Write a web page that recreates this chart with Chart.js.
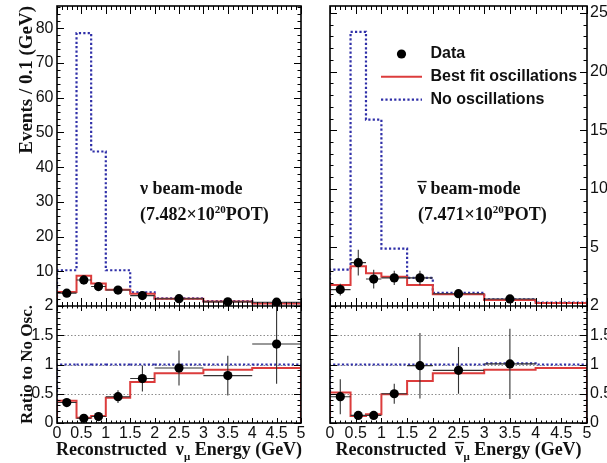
<!DOCTYPE html>
<html><head><meta charset="utf-8">
<script src="https://cdn.jsdelivr.net/npm/chart.js@4.4.1/dist/chart.umd.min.js"></script>
<style>
html,body{margin:0;padding:0;background:#fff;}
#wrap{position:relative;width:607px;height:463px;overflow:hidden;background:#fff;}
#cL{position:absolute;left:0;top:0;}
#cR{position:absolute;left:315px;top:0;}
</style></head><body>
<div id="wrap"><canvas id="cL" width="315" height="463"></canvas><canvas id="cR" width="292" height="463"></canvas></div>
<script>
// ---------- data ----------
const binEdges = [0, 0.4, 0.7, 1.0, 1.5, 2.0, 3.0, 4.0, 5.0];
const energyTicks = [0, 0.5, 1, 1.5, 2, 2.5, 3, 3.5, 4, 4.5, 5];
const ratioTicks = [0, 0.5, 1, 1.5, 2];
const ratioGrid = [0.5, 1, 1.5];
const nuTopTicks = [10, 20, 30, 40, 50, 60, 70, 80];
const anuTopTicks = [5, 10, 15, 20, 25];

// neutrino beam mode (events / 0.1 GeV)
const nuNoOsc   = [10.3, 78.6, 44.5, 10.3, 3.9, 2.2, 1.4, 0.8];
const nuBestFit = [4.0, 8.7, 6.5, 4.7, 3.5, 2.1, 1.3, 0.7];
const nuData    = [3.7, 7.5, 5.6, 4.6, 3.0, 2.1, 1.2, 1.1];
const nuDataErr = [0.9, 1.3, 1.1, 0.7, 0.6, 0.35, 0.3, 0.3];
const nuRatioNoOsc   = [1, 1, 1, 1, 1, 1, 1, 1];
const nuRatioBestFit = [0.38, 0.09, 0.12, 0.43, 0.70, 0.85, 0.91, 0.94];
const nuRatioData    = [0.35, 0.08, 0.11, 0.45, 0.76, 0.94, 0.81, 1.35];
const nuRatioErr     = [0.07, 0.03, 0.04, 0.11, 0.22, 0.30, 0.34, 0.68];

// antineutrino beam mode
const anuNoOsc   = [3.1, 23.4, 15.9, 4.9, 2.4, 1.13, 0.57, 0.28];
const anuBestFit = [1.8, 3.4, 2.8, 2.5, 1.8, 1.0, 0.52, 0.25];
const anuData    = [1.4, 3.7, 2.3, 2.4, 2.4, 1.05, 0.6];
const anuDataErr = [0.5, 1.1, 0.8, 0.6, 0.6, 0.3, 0.25];
const anuRatioNoOsc   = [1, 1, 1, 1, 1, 1, 1.02, 1];
const anuRatioBestFit = [0.52, 0.12, 0.15, 0.49, 0.72, 0.85, 0.91, 0.94];
const anuRatioData    = [0.45, 0.13, 0.13, 0.50, 0.98, 0.90, 1.01];
const anuRatioErr     = [0.30, 0.05, 0.05, 0.17, 0.56, 0.40, 0.60];

// ---------- styling ----------
const SANS = '"Liberation Sans", Arial, Helvetica, sans-serif';
const SERIF = '"Liberation Serif", "Times New Roman", serif';
const BLUE = '#2f2fa8';
const RED = '#dc3c3c';

function histPts(vals) {
  const last = binEdges.length - 1;
  const p = [{x: binEdges[0], y: 0}];
  vals.forEach((v, i) => p.push({x: binEdges[i], y: v}));
  p.push({x: binEdges[last], y: vals[vals.length - 1]});
  p.push({x: binEdges[last], y: 0});
  return p;
}
function dataPts(vals) {
  return vals.map((v, i) => ({x: (binEdges[i] + binEdges[i + 1]) / 2, y: v}));
}
function tickList(min, max, step, every) {
  const n = Math.floor((max - min) / step + 1e-6), out = [];
  for (let k = 0; k <= n; k++) out.push({v: min + k * step, major: k % every === 0});
  return out;
}

function drawFrame(chart, opts) {
  const ctx = chart.ctx, xs = chart.scales.x, ys = chart.scales.yTop, yr = chart.scales.yRatio;
  const L = xs.left, R = xs.right;
  ctx.save();
  ctx.setLineDash([]);
  ctx.strokeStyle = '#000'; ctx.lineWidth = 1;
  const panels = [
    {sc: ys, T: ys.top, B: ys.bottom, list: tickList(0, opts.topMax, opts.topMinor, 5), xMaj: 8, xMin: 4},
    {sc: yr, T: yr.top, B: yr.bottom, list: tickList(0, 2, 0.1, 5), xMaj: 5, xMin: 2.5}
  ];
  const xt = tickList(0, 5, 0.1, 5);
  panels.forEach(p => {
    ctx.beginPath();
    p.list.forEach(t => {
      const py = Math.round(p.sc.getPixelForValue(t.v)) + 0.5;
      const len = t.major ? 7 : 3.5;
      ctx.moveTo(L, py); ctx.lineTo(L + len, py);
      ctx.moveTo(R, py); ctx.lineTo(R - len, py);
    });
    xt.forEach(t => {
      const px = Math.round(xs.getPixelForValue(t.v)) + 0.5;
      const len = t.major ? p.xMaj : p.xMin;
      ctx.moveTo(px, p.B); ctx.lineTo(px, p.B - len);
      ctx.moveTo(px, p.T); ctx.lineTo(px, p.T + len);
    });
    ctx.stroke();
  });
  ctx.lineWidth = 1.6;
  ctx.strokeRect(L, ys.top, R - L, yr.bottom - ys.top);
  ctx.beginPath(); ctx.moveTo(L, ys.bottom); ctx.lineTo(R, ys.bottom); ctx.stroke();
  ctx.restore();
}

function drawTexts(chart, opts) {
  const ctx = chart.ctx, ca = chart.chartArea;
  ctx.save();
  ctx.setLineDash([]);
  ctx.fillStyle = '#111';
  ctx.textBaseline = 'alphabetic'; ctx.textAlign = 'left';
  const big = 'bold 18px ' + SERIF, sup = 'bold 11px ' + SERIF;
  // beam-mode annotation
  const ax = ca.left + opts.annX, ay = ca.top + 188;
  ctx.font = big;
  ctx.fillText(opts.nu, ax, ay);
  const nuW = ctx.measureText(opts.nu).width;
  if (opts.bar) ctx.fillText('\u00AF', ax + nuW / 2 - ctx.measureText('\u00AF').width / 2, ay + 1);
  ctx.fillText(' beam-mode', ax + nuW, ay);
  let cx = ax;
  const by = ca.top + 214;
  const seg = [['(' + opts.pot + '\u00D710', big, 0], ['20', sup, -7], ['POT)', big, 0]];
  seg.forEach(s => { ctx.font = s[1]; ctx.fillText(s[0], cx, by + s[2]); cx += ctx.measureText(s[0]).width; });

  // x-axis title with subscript
  const tf = 'bold 18px ' + SERIF, sf = 'bold 11px ' + SERIF;
  const parts = [['Reconstructed  ', tf, 0], [opts.nu, tf, 0], ['\u03BC', sf, 5], [' Energy (GeV)', tf, 0]];
  let tw = 0;
  parts.forEach(p => { ctx.font = p[1]; tw += ctx.measureText(p[0]).width; });
  let tx = (ca.left + ca.right) / 2 - tw / 2;
  const tyb = ca.bottom + 32;
  parts.forEach((p, i) => {
    ctx.font = p[1];
    ctx.fillText(p[0], tx, tyb + p[2]);
    const w = ctx.measureText(p[0]).width;
    if (i === 1 && opts.bar) ctx.fillText('\u00AF', tx + w / 2 - ctx.measureText('\u00AF').width / 2, tyb + 1);
    tx += w;
  });

  // legend
  if (opts.legend) {
    const lx = ca.left, ly = ca.top;
    ctx.font = 'bold 16px ' + SANS; ctx.textBaseline = 'middle';
    opts.legend.forEach((r, i) => {
      const yy = ly + 48 + i * 22.8;
      if (r.kind === 'dot') {
        ctx.beginPath(); ctx.arc(lx + 71.5, yy, 4.6, 0, Math.PI * 2); ctx.fillStyle = '#000'; ctx.fill();
      } else {
        ctx.beginPath(); ctx.strokeStyle = r.color; ctx.lineWidth = r.kind === 'dash' ? 2.2 : 2;
        ctx.setLineDash(r.kind === 'dash' ? [2.2, 2.2] : []);
        ctx.moveTo(lx + 51, yy); ctx.lineTo(lx + 92, yy); ctx.stroke(); ctx.setLineDash([]);
      }
      ctx.fillStyle = '#111';
      ctx.fillText(r.text, lx + 100.5, yy);
    });
  }
  ctx.restore();
}

const decor = {
  id: 'decor',
  beforeDatasetsDraw(chart) {
    const ctx = chart.ctx, xs = chart.scales.x, yr = chart.scales.yRatio;
    ctx.save();
    ctx.strokeStyle = '#8c8c8c'; ctx.lineWidth = 1; ctx.setLineDash([1.5, 2]);
    ratioGrid.forEach(v => {
      const py = Math.round(yr.getPixelForValue(v)) + 0.5;
      ctx.beginPath(); ctx.moveTo(xs.left, py); ctx.lineTo(xs.right, py); ctx.stroke();
    });
    ctx.restore();
  },
  beforeDatasetDraw(chart, args) {
    const ds = chart.data.datasets[args.index];
    if (!ds.errY) return;
    const ctx = chart.ctx, xs = chart.scales.x, y = chart.scales[ds.yAxisID];
    ctx.save();
    ctx.setLineDash([]);
    ctx.strokeStyle = '#333'; ctx.lineWidth = 1.1;
    ds.data.forEach((pt, i) => {
      const px = xs.getPixelForValue(pt.x);
      const py = y.getPixelForValue(pt.y);
      ctx.beginPath();
      ctx.moveTo(px, y.getPixelForValue(Math.max(y.min, pt.y - ds.errY[i])));
      ctx.lineTo(px, y.getPixelForValue(Math.min(y.max, pt.y + ds.errY[i])));
      ctx.moveTo(xs.getPixelForValue(binEdges[i]), py);
      ctx.lineTo(xs.getPixelForValue(binEdges[i + 1]), py);
      ctx.stroke();
    });
    ctx.restore();
  },
  afterDraw(chart, args, opts) {
    drawFrame(chart, opts);
    drawTexts(chart, opts);
  }
};

function yAxis(pos, ticksArr, min, max, weight, stackWeight, width, title) {
  const o = {
    type: 'linear', position: pos, stack: 'col', stackWeight: stackWeight, weight: weight,
    min: min, max: max,
    grid: {display: false, drawTicks: false}, border: {display: false},
    afterBuildTicks: s => { s.ticks = ticksArr.map(v => ({value: v})); },
    afterFit: s => { s.width = width; s.paddingTop = 0; s.paddingBottom = 0; },
    ticks: {font: {family: SANS, size: 16}, color: '#111', padding: pos === 'left' ? 3.5 : 3,
            autoSkip: false, callback: v => String(v)}
  };
  if (title) o.title = title;
  return o;
}

function buildChart(canvas, cfg) {
  const pt = {pointRadius: 4.6, pointBackgroundColor: '#000', pointBorderColor: '#000', pointBorderWidth: 0, showLine: false};
  return new Chart(canvas, {
    type: 'line',
    data: {datasets: [
      Object.assign({type: 'scatter', label: 'Data', data: dataPts(cfg.data), yAxisID: 'yTop', errY: cfg.dataErr, order: 0}, pt),
      Object.assign({type: 'scatter', label: 'Data ratio', data: dataPts(cfg.ratioData), yAxisID: 'yRatio', errY: cfg.ratioErr, order: 0}, pt),
      {label: 'Best fit oscillations', data: histPts(cfg.bestFit), yAxisID: 'yTop', stepped: 'before',
       borderColor: RED, borderWidth: 2, pointRadius: 0, fill: false, order: 1},
      {label: 'Best fit ratio', data: histPts(cfg.ratioBestFit), yAxisID: 'yRatio', stepped: 'before',
       borderColor: RED, borderWidth: 2, pointRadius: 0, fill: false, order: 1},
      {label: 'No oscillations', data: histPts(cfg.noOsc), yAxisID: 'yTop', stepped: 'before',
       borderColor: BLUE, borderWidth: 2.2, borderDash: [2.2, 2.2], pointRadius: 0, fill: false, order: 2},
      {label: 'No oscillations ratio', data: histPts(cfg.ratioNoOsc), yAxisID: 'yRatio', stepped: 'before',
       borderColor: BLUE, borderWidth: 2.2, borderDash: [2.2, 2.2], pointRadius: 0, fill: false, order: 2}
    ]},
    options: {
      responsive: false, animation: false, devicePixelRatio: 1,
      layout: {padding: cfg.padding},
      plugins: {legend: {display: false}, tooltip: {enabled: false}, decor: cfg.decor},
      scales: {
        x: {type: 'linear', position: 'bottom', min: 0, max: 5,
            grid: {display: false, drawTicks: false}, border: {display: false},
            afterBuildTicks: s => { s.ticks = energyTicks.map(v => ({value: v})); },
            afterFit: s => { s.height = 40; s.paddingLeft = 0; s.paddingRight = 0; },
            ticks: {font: {family: SANS, size: 16}, color: '#111', padding: 1, autoSkip: false,
                    minRotation: 0, maxRotation: 0, callback: v => String(v)}},
        yTop: cfg.yTop,
        yRatio: cfg.yRatio
      }
    },
    plugins: [decor]
  });
}

buildChart(document.getElementById('cL'), {
  data: nuData, dataErr: nuDataErr, ratioData: nuRatioData, ratioErr: nuRatioErr,
  bestFit: nuBestFit, ratioBestFit: nuRatioBestFit, noOsc: nuNoOsc, ratioNoOsc: nuRatioNoOsc,
  padding: {left: 0, top: 6, right: 14, bottom: 0},
  yTop: yAxis('left', nuTopTicks, 0, 86.4, 2, 300, 57,
    {display: true, text: 'Events / 0.1 (GeV)', align: 'end', color: '#111',
     font: {family: SERIF, size: 19, weight: 'bold'}, padding: {top: 15.5, bottom: 0}}),
  yRatio: yAxis('left', ratioTicks, 0, 2, 1, 117, 57,
    {display: true, text: 'Ratio to No Osc.', align: 'center', color: '#111',
     font: {family: SERIF, size: 17, weight: 'bold'}, padding: {top: 17, bottom: 0}}),
  decor: {topMax: 86.4, topMinor: 2, annX: 83, nu: '\u03BD', bar: false, pot: '7.482'}
});

buildChart(document.getElementById('cR'), {
  data: anuData, dataErr: anuDataErr, ratioData: anuRatioData, ratioErr: anuRatioErr,
  bestFit: anuBestFit, ratioBestFit: anuRatioBestFit, noOsc: anuNoOsc, ratioNoOsc: anuRatioNoOsc,
  padding: {left: 15, top: 6, right: 0, bottom: 0},
  yTop: yAxis('right', anuTopTicks, 0, 25.6, 1, 300, 20, null),
  yRatio: yAxis('right', ratioTicks, 0, 2, 2, 117, 20, null),
  decor: {topMax: 25.6, topMinor: 1, annX: 88, nu: '\u03BD', bar: true, pot: '7.471',
    legend: [{kind: 'dot', text: 'Data'}, {kind: 'line', color: RED, text: 'Best fit oscillations'},
             {kind: 'dash', color: BLUE, text: 'No oscillations'}]}
});
</script>
</body></html>
